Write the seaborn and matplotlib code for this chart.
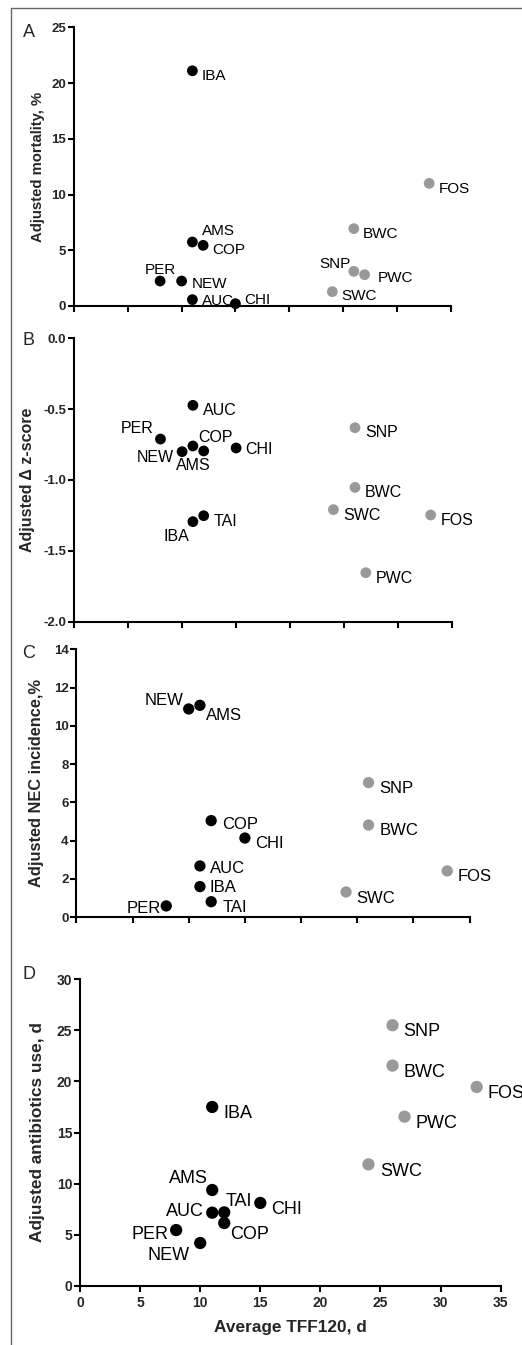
import numpy as np
import pandas as pd
import matplotlib
matplotlib.use("Agg")
import matplotlib.pyplot as plt
import matplotlib.transforms as mtransforms
from matplotlib.lines import Line2D
import seaborn as sns

# ---------------- data ----------------
centers = ["AMS", "AUC", "CHI", "COP", "IBA", "NEW", "PER", "TAI",
           "BWC", "FOS", "PWC", "SNP", "SWC"]
group = ["low"] * 8 + ["high"] * 5
tff120 = [11, 11, 15, 12, 11, 10, 8, 12, 26, 33, 27, 26, 24]
mortality = [5.74, 0.57, 0.21, 5.44, 21.1, 2.24, 2.24, np.nan,
             6.94, 11.0, 2.81, 3.11, 1.29]
delta_z = [-0.76, -0.473, -0.774, -0.795, -1.294, -0.80, -0.711, -1.252,
           -1.052, -1.247, -1.654, -0.631, -1.209]
nec = [11.07, 2.67, 4.13, 5.04, 1.59, 10.88, 0.58, 0.80,
       4.81, 2.41, np.nan, 7.03, 1.31]
antibiotics = [9.37, 7.15, 8.1, 6.14, 17.5, 4.18, 5.45, 7.18,
               21.55, 19.46, 16.55, 25.5, 11.88]

x_ticks = [0, 5, 10, 15, 20, 25, 30, 35]
ylabels = ["Adjusted mortality, %", "Adjusted \u0394 z-score",
           "Adjusted NEC incidence,%", "Adjusted antibiotics use, d"]
xlabel = "Average TFF120, d"
panel_letters = ["A", "B", "C", "D"]

# ---------------- style ----------------
sns.set_style("ticks")
plt.rcParams["font.family"] = ["Liberation Sans", "DejaVu Sans"]
plt.rcParams["axes.unicode_minus"] = False

W, H = 522, 1345
fig = plt.figure(figsize=(W / 100, H / 100), dpi=100)

palette = {"low": "#000000", "high": "#999999"}

# layout in pixels: left, right, top(ymax), bottom(ymin)
layouts = [
    dict(l=74, r=450.7, t=27.3, b=306, ylim=(0, 25), yticks=[0, 5, 10, 15, 20, 25],
         fmt="{:.0f}", ylab_x=37.7, letter_y=37.2, fs_lab=11, fs_tick=9.5, fs_ylab=10.7, s=60),
    dict(l=74, r=452.3, t=338.3, b=621.7, ylim=(-2.0, 0.0),
         yticks=[0.0, -0.5, -1.0, -1.5, -2.0], fmt="{:.1f}", ylab_x=27.3, letter_y=345.5,
         fs_lab=11.5, fs_tick=9.5, fs_ylab=11.5, s=60),
    dict(l=76.3, r=469.7, t=649.3, b=917, ylim=(0, 14), yticks=[0, 2, 4, 6, 8, 10, 12, 14],
         fmt="{:.0f}", ylab_x=37, letter_y=658.2, fs_lab=12, fs_tick=9.5, fs_ylab=11.8, s=66),
    dict(l=80, r=500.7, t=979.3, b=1285.7, ylim=(0, 30), yticks=[0, 5, 10, 15, 20, 25, 30],
         fmt="{:.0f}", ylab_x=37.5, letter_y=979.2, fs_lab=13, fs_tick=10, fs_ylab=12.4, s=78),
]

# label offsets in pixels: (dx, dy_down, ha) relative to point centre (cap-centre of text)
label_pos = [
    {"IBA": (9.7, 4, "left"), "AMS": (9.7, -12, "left"), "COP": (9.3, 3, "left"),
     "PER": (0, -12.7, "center"), "NEW": (10, 1.3, "left"), "AUC": (9.7, 0, "left"),
     "CHI": (9, -4.7, "left"), "BWC": (9.3, 3.7, "left"), "FOS": (10, 4, "left"),
     "SNP": (-3.3, -9, "right"), "PWC": (12.7, 2.3, "left"), "SWC": (9.3, 3.3, "left")},
    {"AUC": (9.7, 4, "left"), "PER": (-7, -11.3, "right"), "COP": (-5, -14.3, "left"),
     "AMS": (0.3, 18.7, "center"), "NEW": (-8.3, 4.3, "right"), "CHI": (9.3, 0.7, "left"),
     "IBA": (-3.7, 13.7, "right"), "TAI": (10, 4.3, "left"), "SNP": (10, 4, "left"),
     "BWC": (10, 4, "left"), "SWC": (10, 4.7, "left"), "FOS": (10, 4, "left"),
     "PWC": (10, 4.3, "left")},
    {"NEW": (-5.3, -10.3, "right"), "AMS": (6, 8.7, "left"), "SNP": (10.7, 4, "left"),
     "COP": (11, 2, "left"), "BWC": (10.7, 4.3, "left"), "CHI": (10.3, 4.3, "left"),
     "AUC": (9.7, 1, "left"), "FOS": (10.3, 4.3, "left"), "IBA": (9.7, -1, "left"),
     "SWC": (10.3, 4.7, "left"), "TAI": (11, 4.3, "left"), "PER": (-5.3, 1, "right")},
    {"IBA": (11.3, 5, "left"), "SNP": (10.7, 4.7, "left"), "BWC": (10.7, 5, "left"),
     "FOS": (11, 4.7, "left"), "PWC": (11, 4.7, "left"), "SWC": (11.7, 4.7, "left"),
     "AMS": (-4.7, -13.3, "right"), "TAI": (1, -13.3, "left"), "CHI": (11.3, 5, "left"),
     "AUC": (-8.7, -3.3, "right"), "COP": (6.3, 9.3, "left"), "PER": (-7.7, 2, "right"),
     "NEW": (-10.7, 10.3, "right")},
]

values = [mortality, delta_z, nec, antibiotics]

for i, (lay, vals) in enumerate(zip(layouts, values)):
    ax = fig.add_axes([lay["l"] / W, 1 - lay["b"] / H,
                       (lay["r"] - lay["l"]) / W, (lay["b"] - lay["t"]) / H])
    df = pd.DataFrame({"center": centers, "group": group, "tff": tff120, "val": vals}).dropna()
    sns.scatterplot(data=df, x="tff", y="val", hue="group", palette=palette,
                    s=lay["s"], edgecolor="none", linewidth=0, legend=False,
                    clip_on=False, zorder=4, ax=ax)
    ax.set_xlim(0, 35)
    ax.set_ylim(*lay["ylim"])
    ax.set_xticks(x_ticks)
    ax.set_yticks(lay["yticks"])
    ax.set_yticklabels([lay["fmt"].format(v) for v in lay["yticks"]])
    for sp in ["top", "right"]:
        ax.spines[sp].set_visible(False)
    for sp in ["left", "bottom"]:
        ax.spines[sp].set_linewidth(1.5)
        ax.spines[sp].set_color("black")
    ax.tick_params(axis="both", direction="out", length=4, width=1.5, color="black",
                   labelsize=lay["fs_tick"], pad=1.5)
    ax.tick_params(axis="x", length=4.2, pad=3)
    for t in ax.get_yticklabels() + ax.get_xticklabels():
        t.set_fontweight("bold")
    if i < 3:
        ax.tick_params(axis="x", labelbottom=False)
        ax.set_xlabel("")
    else:
        ax.set_xlabel(xlabel, fontsize=12.4, fontweight="bold", va="center")
        ax.xaxis.set_label_coords(0.5, 1 - 1327.7 / H,
                                  transform=mtransforms.blended_transform_factory(ax.transAxes, fig.transFigure))
    ax.set_ylabel(ylabels[i], fontsize=lay["fs_ylab"], fontweight="bold", va="center")
    ax.yaxis.set_label_coords(lay["ylab_x"] / W, 0.5,
                              transform=mtransforms.blended_transform_factory(fig.transFigure, ax.transAxes))
    # point labels
    fs = lay["fs_lab"]
    for _, row in df.iterrows():
        dx, dy, ha = label_pos[i][row["center"]]
        ax.annotate(row["center"], (row["tff"], row["val"]),
                    xytext=(dx * 0.72, -dy * 0.72 - 0.358 * fs), textcoords="offset points",
                    ha=ha, va="baseline", fontsize=fs, color="black",
                    annotation_clip=False, zorder=5)
    fig.text(29 / W, 1 - lay["letter_y"] / H, panel_letters[i], fontsize=13,
             ha="center", va="baseline")

# outer frame lines
fig.add_artist(Line2D([10.5 / W, 1], [1 - 8.3 / H, 1 - 8.3 / H], transform=fig.transFigure,
                      color="#666666", linewidth=1))
fig.add_artist(Line2D([10.5 / W, 10.5 / W], [0, 1 - 8.3 / H], transform=fig.transFigure,
                      color="#666666", linewidth=1))

fig.savefig("out.png", dpi=100)
